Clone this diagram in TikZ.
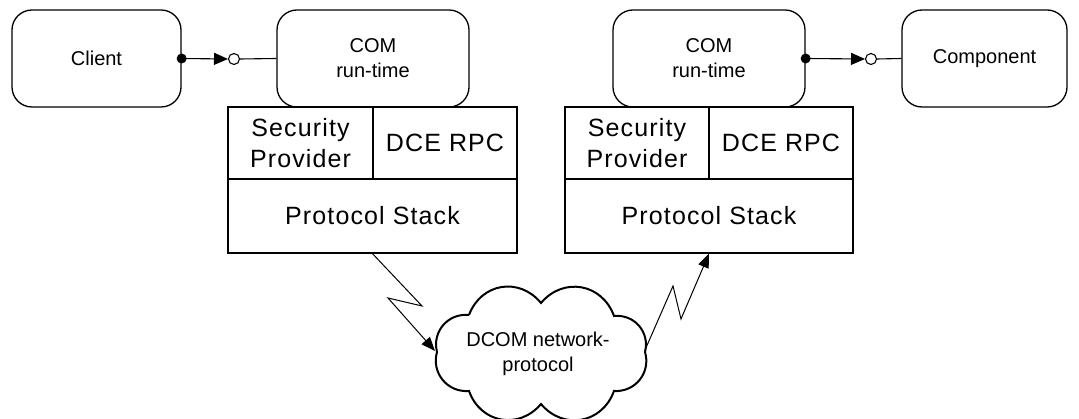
\documentclass[tikz,border=0pt]{standalone}
\usepackage{fontspec}
\setmainfont{Liberation Sans}
\newfontfamily\bigf[LetterSpace=4.5]{Liberation Sans}
\newfontfamily\smallf{Liberation Sans}
\usetikzlibrary{arrows.meta}
\begin{document}
\begin{tikzpicture}[x=1pt,y=-1pt,
  rbox/.style={draw, line width=1.3pt, rounded corners=20pt, inner sep=0pt, align=center,
    font=\smallf\fontsize{20}{25}\selectfont},
  cell/.style={draw, line width=1.3pt, inner sep=0pt, align=center,
    font=\bigf\fontsize{25}{31}\selectfont},
  conn/.style={line width=1.1pt},
  tipa/.style={-{Triangle[length=14pt,width=12pt]}},
  ocirc/.style={draw, circle, line width=1.1pt, minimum size=11pt, inner sep=0pt, fill=white},
  cloudtxt/.style={align=center, font=\smallf\fontsize{20}{25}\selectfont},
  cloudline/.style={line width=2pt}]
\useasboundingbox (0,0) rectangle (1079,419);

% top boxes
\node[rbox, minimum width=169pt, minimum height=97pt] (client) at (96.5,58.5) {Client};
\node[rbox, minimum width=192pt, minimum height=97pt] (com1) at (373,58.5) {COM\\run-time};
\node[rbox, minimum width=192pt, minimum height=97pt] (com2) at (709,58.5) {COM\\run-time};
\node[rbox, minimum width=165pt, minimum height=97pt] (comp) at (984.5,58.5) {Component};

% left stack
\node[cell, minimum width=145pt, minimum height=72pt] (sp1) at (300.5,143) {Security\\Provider};
\node[cell, minimum width=144pt, minimum height=72pt] (dce1) at (445,143) {DCE RPC};
\node[cell, minimum width=289pt, minimum height=74pt] (ps1) at (372.5,216) {Protocol Stack};

% right stack
\node[cell, minimum width=144pt, minimum height=72pt] (sp2) at (637,143) {Security\\Provider};
\node[cell, minimum width=144pt, minimum height=72pt] (dce2) at (781,143) {DCE RPC};
\node[cell, minimum width=288pt, minimum height=74pt] (ps2) at (709,216) {Protocol Stack};

% connectors top
\coordinate (t1) at (228,59);
\node[ocirc] (o1) at (234,59) {};
\draw[conn, tipa] (client.east) -- (t1);
\draw[conn] (o1.east) -- (com1.west);
\fill (client.east) circle (5pt);

\coordinate (t2) at (865,59);
\node[ocirc] (o2) at (871,59) {};
\draw[conn, tipa] (com2.east) -- (t2);
\draw[conn] (o2.east) -- (comp.west);
\fill (com2.east) circle (5pt);

% cloud
\coordinate (v1) at (469,315);
\coordinate (v2) at (541,303);
\coordinate (v3) at (614,316);
\coordinate (v4) at (645,352);
\coordinate (v5) at (614,391);
\coordinate (v6) at (541,404);
\coordinate (v7) at (469,391);
\coordinate (v8) at (437,352);
\draw[cloudline]
  (v1) to[bend left=60, looseness=1.2] (v2)
       to[bend left=60, looseness=1.2] (v3)
       to[bend left=55, looseness=1.1] (v4)
       to[bend left=55, looseness=1.1] (v5)
       to[bend left=60, looseness=1.2] (v6)
       to[bend left=60, looseness=1.2] (v7)
       to[bend left=55, looseness=1.1] (v8)
       to[bend left=55, looseness=1.1] (v1);
\node[cloudtxt] (cloud) at (538,354) {DCOM network-\\protocol};

% lightning connectors
\coordinate (a1) at (422,306);
\coordinate (a2) at (388,298);
\coordinate (a3) at (435,351);
\draw[conn, line width=1pt, -{Triangle[length=14pt,width=11pt]}] (ps1.south) -- (a1) -- (a2) -- (a3);

\coordinate (b0) at (645,350);
\coordinate (b1) at (673,286);
\coordinate (b2) at (681,319);
\draw[conn, line width=1pt, -{Triangle[length=14pt,width=11pt]}] (b0) -- (b1) -- (b2) -- (ps2.south);
\end{tikzpicture}
\end{document}
